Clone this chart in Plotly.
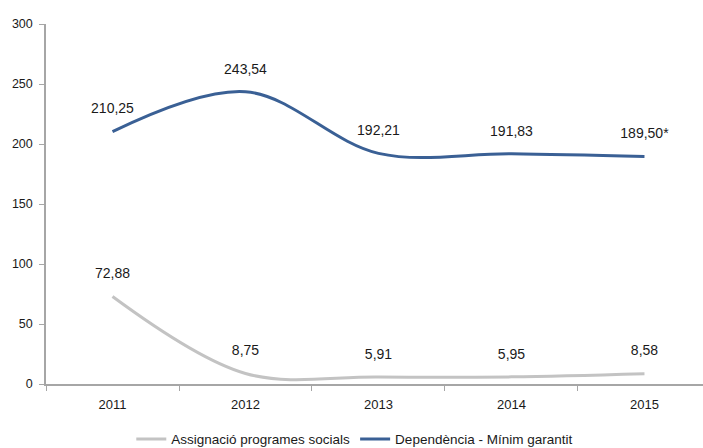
import plotly.graph_objects as go

years = ["2011", "2012", "2013", "2014", "2015"]
assignacio = [72.88, 8.75, 5.91, 5.95, 8.58]
dependencia = [210.25, 243.54, 192.21, 191.83, 189.50]
assignacio_labels = ["72,88", "8,75", "5,91", "5,95", "8,58"]
dependencia_labels = ["210,25", "243,54", "192,21", "191,83", "189,50*"]
y_ticks = [0, 50, 100, 150, 200, 250, 300]

FONT = "Liberation Sans, Arial, sans-serif"
GRAY = "#c3c3c3"
BLUE = "#3a6095"
TXT = "#1a1a1a"

fig = go.Figure()
fig.add_trace(go.Scatter(
    x=years, y=assignacio, mode="lines", name="Assignació programes socials",
    line=dict(color=GRAY, width=3, shape="spline", smoothing=1.0),
))
fig.add_trace(go.Scatter(
    x=years, y=dependencia, mode="lines", name="Dependència - Mínim garantit",
    line=dict(color=BLUE, width=3, shape="spline", smoothing=1.0),
))

# data labels (invisible markers push the text above the points)
for ys, labs in [(assignacio, assignacio_labels), (dependencia, dependencia_labels)]:
    fig.add_trace(go.Scatter(
        x=years, y=ys, mode="markers+text", text=labs,
        textposition="top center",
        textfont=dict(family=FONT, size=14, color=TXT),
        marker=dict(size=22, opacity=0),
        showlegend=False, hoverinfo="skip",
    ))

fig.update_layout(
    width=703, height=448,
    margin=dict(l=46, r=0, t=24, b=64, autoexpand=False),
    paper_bgcolor="white", plot_bgcolor="white",
    font=dict(family=FONT, size=13, color=TXT),
    showlegend=True,
    legend=dict(
        orientation="h", x=0.47, xanchor="center", y=-0.11, yanchor="top",
        font=dict(family=FONT, size=13.5, color=TXT),
    ),
    xaxis=dict(
        type="category", range=[-0.5, 4.44],
        showline=True, linecolor="#a6a6a6", linewidth=1.5,
        ticks="outside", tickson="boundaries", ticklen=5, tickcolor="#a6a6a6",
        showgrid=False, zeroline=False, ticklabelstandoff=8,
        tickfont=dict(family=FONT, size=13, color=TXT),
    ),
    yaxis=dict(
        range=[0, 300], tickvals=y_ticks,
        showline=True, linecolor="#a6a6a6", linewidth=1.5,
        ticks="outside", ticklen=5, tickcolor="#a6a6a6",
        showgrid=False, zeroline=False, ticklabelstandoff=4,
        tickfont=dict(family=FONT, size=12.5, color=TXT),
    ),
)

fig.write_html("out.html", config={"displayModeBar": False},
               post_script="document.body.style.margin='0';")
